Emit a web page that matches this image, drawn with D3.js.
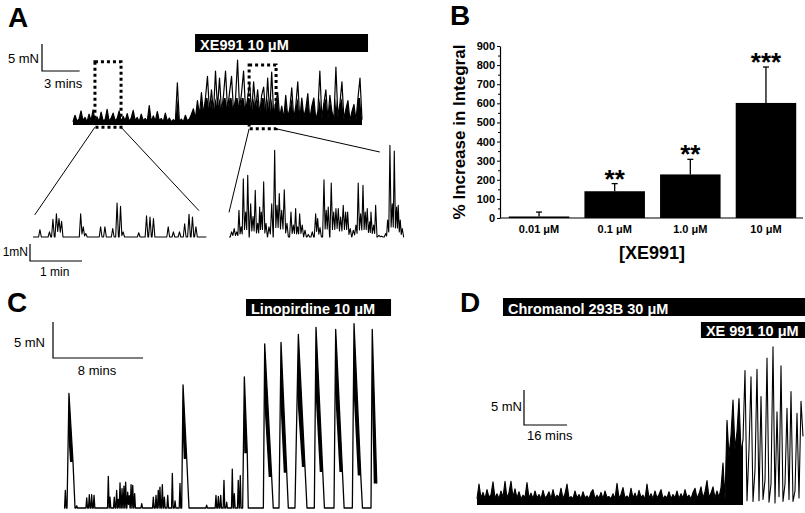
<!DOCTYPE html>
<html>
<head>
<meta charset="utf-8">
<script src="https://cdnjs.cloudflare.com/ajax/libs/d3/7.8.5/d3.min.js"></script>
<style>
  body { margin: 0; background: #fff; }
  svg { display: block; font-family: "Liberation Sans", Arial, sans-serif; }
</style>
</head>
<body>
<svg id="fig" width="805" height="513"></svg>
<script>
// ---------- data ----------
// A: force trace (mN), one sample every aStep min
const aStep = 0.16;
const aTrace = [
  0.6,1.8,0.7,1.1,2.6,0.8,1.4,0.6,2.0,0.8, 2.8,0.7,1.5,0.6,2.4,0.8,1.0,2.9,0.7,1.3,
  2.2,0.8,1.2,2.6,0.6,1.6,0.8,2.1,0.7,1.3, 2.7,0.8,1.4,0.6,2.0,0.8,1.2,0.7,3.6,0.6,
  1.7,0.7,2.5,0.8,1.2,0.6,2.2,0.7,1.3,0.6, 1.0,0.6,7.8,0.7,1.1,0.6,1.8,0.8,1.1,2.0,
  3.0,1.2,4.5,1.8,6.0,2.0,5.0,9.0,2.5,6.5, 2.2,10.0,3.0,8.7,2.5,5.5,10.0,2.8,6.0,9.0,
  2.5,5.0,12.0,3.0,6.0,10.0,2.5,5.0,7.8,2.2, 8.0,3.0,6.5,2.0,5.5,7.0,2.0,8.7,2.0,9.8,
  1.8,4.0,6.0,1.5,3.5,1.2,5.5,1.5,3.0,6.9, 1.2,3.5,8.0,1.0,5.0,1.5,3.0,5.8,1.0,3.5,
  5.0,1.0,2.5,10.0,1.2,4.0,6.5,1.0,5.5,2.5, 1.0,10.7,1.5,4.0,8.0,1.0,3.0,4.5,0.8,2.5,
  3.8,0.8,5.0,8.7,1.0
];
const aDrug = [9.73, 23.52];
const aDrugLabel = "XE991 10 μM";
// expanded segments: [t0, t1, bottom mN, top mN]
const aBoxes = [[1.75, 3.83, -0.4, 11.7], [14.04, 16.19, -0.7, 11.1]];

// A insets: spikes [time s, mN]
const inset1Spikes = [
  [8,0.43],[19,0.3],[23,1.04],[27,1.37],[30,1.08],[33,0.92],[55,1.37],[58,0.6],[61,0.2],
  [78,0.6],[83,0.6],[92,0.5],[97,2.0],[101,1.8],[104,0.3],[122,0.25],[131,1.24],[135,1.18],
  [139,1.08],[156,0.6],[162,0.3],[169,0.3],[175,0.78],[180,1.33],[184,1.18],[188,0.6]
];
const inset2Spikes = [
  [3,0.3],[6,0.5],[9,0.3],[11.5,1.57],[14,0.6],[16.5,3.43],[19.3,1.47],[21.6,3.63],[25,1.96],
  [27.7,1.2],[30.3,2.75],[33.1,0.8],[35.4,1.76],[37.3,1.47],[40,3.24],[42.7,0.8],[46.1,0.6],
  [49.3,1.96],[52.7,5.1],[55.4,1.86],[58,2.55],[60.8,1.57],[63.8,2.78],[66.9,0.8],[71.5,1.47],
  [74.2,0.7],[76.9,1.67],[79.2,0.6],[81.5,1.37],[84.5,0.7],[87.7,0.4],[91.5,0.15],[96.1,0.3],
  [100,1.37],[102.3,1.08],[105,0.55],[109.6,3.37],[112.2,1.57],[114.5,1.76],[118,3.18],
  [120.8,1.47],[123.4,1.67],[126.1,1.67],[128.8,1.18],[131.8,1.86],[134.6,1.47],[136.9,1.47],
  [139.9,0.5],[143.4,0.4],[146.5,0.7],[149.1,3.18],[151.9,1.37],[154.6,3.04],[157.2,1.47],
  [159.5,1.67],[162.3,0.9],[163.8,1.47],[166.9,0.7],[169.2,1.86],[173,0.1],[176.1,0.05],
  [180.7,0.2],[183,1.0],[185.7,5.4],[188.4,1.96],[190.7,5.06],[193.4,1.76],[195.3,1.86],
  [197.6,1.0],[199.9,0.5]
];
const inset1Len = 200, inset2Len = 202;

// B: % increase in integral
const bCats = ["0.01 μM", "0.1 μM", "1.0 μM", "10 μM"];
const bMeans = [8, 140, 228, 602];
const bErrTop = [31, 180, 307, 790];
const bStars = ["", "**", "**", "***"];
const bTicks = [0, 100, 200, 300, 400, 500, 600, 700, 800, 900];
const bMinor = [50, 150, 250, 350, 450, 550, 650, 750, 850];

// C: spikes [min, mN], bursts [start, peak t, peak mN, tail t, tail mN, end]
const cSpikes = [
  [0.12,2.45],[1.13,0.3],[2.02,1.4],[2.25,1.85],[2.46,1.85],[2.67,1.75],[3.94,4.4],[4.09,1.5],
  [4.47,1.5],[4.68,2.45],[4.83,1.2],[4.98,3.5],[5.16,2.7],[5.33,3.05],[5.48,3.6],[5.66,2.2],
  [5.8,1.7],[5.96,3.25],[6.11,3.15],[6.28,2.0],[6.91,0.6],[7.94,1.5],[8.18,1.75],[8.38,2.45],
  [8.53,2.9],[8.74,3.25],[8.92,1.5],[9.22,1.75],[9.63,4.8],[9.87,1.0],[10.31,3.4],[12.68,0.4],
  [13.51,1.75],[13.72,1.6],[13.93,1.75],[14.22,3.85],[14.46,0.8],[14.96,5.4],[15.14,2.0],
  [15.49,3.85],[15.67,4.5]
];
const cBursts = [
  [0.27, 0.44, 15.9, 0.8, 6.4, 0.98],
  [10.46, 10.58, 17.1, 10.91, 6.8, 11.11],
  [15.88, 16.03, 18.2, 16.29, 7.6, 16.38],
  [17.72, 17.84, 22.8, 18.46, 4.3, 18.6],
  [19.11, 19.29, 23.0, 19.8, 4.9, 19.94],
  [20.53, 20.83, 24.1, 21.42, 5.7, 21.6],
  [22.25, 22.4, 25.1, 23.0, 5.0, 23.15],
  [24.0, 24.15, 24.8, 24.75, 5.0, 24.9],
  [25.63, 25.78, 25.6, 26.38, 4.5, 26.53],
  [27.29, 27.4, 24.8, 27.8, 3.4, null]
];
const cLen = 27.8;
const cDrug = [16.18, 29.07];
const cDrugLabel = "Linopirdine 10 μM";

// D: force trace (mN), one sample every dStep min
const dStep = 0.744;
const dTrace = [
  0.9,3.0,1.0,1.8,0.9,2.2,1.1,1.5,3.3,1.0, 1.6,0.9,2.0,1.1,3.4,1.0,1.8,3.4,1.1,2.3,
  1.0,1.9,0.9,1.4,1.1,3.2,1.0,1.7,0.9,2.0, 1.0,1.5,0.9,2.1,1.0,1.3,1.9,0.9,2.2,1.0,
  1.4,1.1,2.4,0.9,1.6,3.0,1.0,1.2,0.9,2.0, 1.0,1.5,0.9,1.9,1.0,1.3,0.9,1.8,2.2,0.9,
  1.4,1.0,1.8,0.9,2.0,1.1,1.2,0.9,1.6,0.9, 3.1,1.0,1.5,2.5,1.0,1.3,0.9,2.4,1.0,1.7,
  0.9,2.1,1.1,1.4,0.9,3.0,1.0,1.6,0.9,2.0, 1.0,1.5,2.2,0.9,1.3,1.0,1.9,0.9,1.5,1.0,
  2.0,0.9,1.6,1.0,2.2,1.1,1.4,0.9,1.8,2.4, 1.0,1.6,2.6,1.0,1.9,3.5,1.1,1.7,2.6,1.0,
  2.0,1.1,2.5,
  6.0,0.8,12.1,7.0,10.0,15.0,8.0,10.5,15.2,7.5, 9.3,19.2,0.6,8.0,18.3,0.5,5.0,19.4,0.6,15.5,
  0.8,3.5,21.0,0.4,3.0,22.6,0.3,13.3,1.2,19.9, 0.5,3.0,13.8,0.8,16.2,0.5,2.0,13.1,1.0,14.8,
  9.8
];
const dSolidUntil = 99.5;   // min: before this the oscillations are unresolved
const dDrugs = [
  { label: "Chromanol 293B 30 μM", t: [9.67, 124], row: 0 },
  { label: "XE 991 10 μM", t: [83.3, 124], row: 1 }
];

// ---------- drawing ----------
const svg = d3.select("#fig");

function tracePoints(spikes, bursts, t0, t1, hw) {
  const ev = spikes.map(s => ({ t: s[0], a: s[1] }))
    .concat(bursts.map(b => ({ t: b[0], burst: b })))
    .sort((p, q) => p.t - q.t);
  const pts = [[t0, 0]];
  ev.forEach((e, i) => {
    if (e.burst) {
      const b = e.burst;
      pts.push([b[0], 0], [b[1], b[2]], [b[3], b[4]]);
      if (b[5] != null) pts.push([b[5], 0]);
      return;
    }
    const prev = ev[i - 1], next = ev[i + 1];
    const near = o => o && !o.burst && Math.abs(o.t - e.t) < 2 * hw;
    if (!near(prev)) pts.push([e.t - hw, 0]);
    pts.push([e.t, e.a]);
    if (near(next)) pts.push([(e.t + next.t) / 2, Math.min(e.a, next.a) * 0.3]);
    else pts.push([e.t + hw, 0]);
  });
  if (pts[pts.length - 1][0] < t1) pts.push([t1, 0]);
  return pts;
}

function drawPath(pts, x, y, w) {
  svg.append("path")
    .datum(pts)
    .attr("fill", "none")
    .attr("stroke", "#000")
    .attr("stroke-width", w)
    .attr("stroke-linejoin", "round")
    .attr("d", d3.line().x(d => x(d[0])).y(d => y(d[1])));
}

// dense recordings: fast oscillations read as solid black up to "cap" mN
function drawDense(pts, fillPts, x, y, w, cap) {
  svg.append("path")
    .datum(fillPts)
    .attr("fill", "#000")
    .attr("d", d3.area().x(d => x(d[0])).y0(y(0)).y1(d => y(Math.min(d[1], cap))));
  drawPath(pts, x, y, w);
}

function scaleBar(x0, y0, dx, dy) {
  svg.append("path")
    .attr("d", `M${x0},${y0 - dy}V${y0}H${x0 + dx}`)
    .attr("fill", "none").attr("stroke", "#000").attr("stroke-width", 1.2);
}

function label(txt, x, y, size, opts = {}) {
  return svg.append("text")
    .attr("x", x).attr("y", y)
    .attr("font-size", size)
    .attr("font-weight", opts.bold ? "bold" : "normal")
    .attr("text-anchor", opts.anchor || "start")
    .attr("fill", opts.fill || "#000")
    .text(txt);
}

function drugBar(x0, x1, top, h, txt) {
  svg.append("rect").attr("x", x0).attr("y", top).attr("width", x1 - x0).attr("height", h).attr("fill", "#000");
  label(txt, x0 + 5, top + h - 2.5, 14.5, { bold: true, fill: "#fff" });
}

// panel letters
label("A", 8, 27, 28, { bold: true });
label("B", 450, 25, 28, { bold: true });
label("C", 7, 312, 28, { bold: true });
label("D", 460, 312, 28, { bold: true });

// ----- A -----
const xA = d3.scaleLinear().domain([0, aStep * (aTrace.length - 1)]).range([73, 362]);
const yA = d3.scaleLinear().domain([0, 5]).range([125, 98]);
const aPts = aTrace.map((v, i) => [i * aStep, v]);
drawDense(aPts, aPts, xA, yA, 1.2, 5);
drugBar(xA(aDrug[0]), xA(aDrug[1]), 34, 18, aDrugLabel);
scaleBar(42, 71, xA(3) - xA(0), yA(0) - yA(5));
label("5 mN", 39, 63, 13, { anchor: "end" });
label("3 mins", 44, 88, 13);

svg.selectAll("rect.box")
  .data(aBoxes)
  .enter().append("rect")
  .attr("class", "box")
  .attr("x", d => xA(d[0]))
  .attr("y", d => yA(d[3]))
  .attr("width", d => xA(d[1]) - xA(d[0]))
  .attr("height", d => yA(d[2]) - yA(d[3]))
  .attr("fill", "none")
  .attr("stroke", "#000")
  .attr("stroke-width", 3)
  .attr("stroke-dasharray", "3,3");

const yI = d3.scaleLinear().domain([0, 1]).range([237, 220]);
const xI1 = d3.scaleLinear().domain([0, inset1Len]).range([33, 33 + inset1Len * 52 / 60]);
const xI2 = d3.scaleLinear().domain([0, inset2Len]).range([229, 229 + inset2Len * 52 / 60]);
drawPath(tracePoints(inset1Spikes, [], 0, inset1Len, 1.6), xI1, yI, 1.1);
drawPath(tracePoints(inset2Spikes, [], 0, inset2Len, 1.6), xI2, yI, 1.1);

// lines from dotted boxes to the expanded insets: [box, side, inset, t s, mN]
const aLinks = [[0, 0, xI1, 2, 1.3], [0, 1, xI1, 191.5, 1.55], [1, 0, xI2, 0, 1.45], [1, 1, xI2, 174, 5.0]];
svg.selectAll("line.link")
  .data(aLinks)
  .enter().append("line")
  .attr("x1", d => xA(aBoxes[d[0]][d[1]]))
  .attr("y1", d => yA(aBoxes[d[0]][2]))
  .attr("x2", d => d[2](d[3]))
  .attr("y2", d => yI(d[4]))
  .attr("stroke", "#000")
  .attr("stroke-width", 1);

scaleBar(30, 261, xI1(60) - xI1(0), yI(0) - yI(1));
label("1mN", 28, 256, 12, { anchor: "end" });
label("1 min", 40, 276, 12);

// ----- B -----
const yB = d3.scaleLinear().domain([0, 900]).range([218, 46]);
const xB = d3.scaleBand().domain(bCats).range([505, 800]).paddingInner(0.2).paddingOuter(0.05);

const yAxis = svg.append("g")
  .attr("transform", "translate(500,0)")
  .call(d3.axisLeft(yB).tickValues(bTicks).tickSize(3).tickSizeOuter(0).tickPadding(2));
yAxis.selectAll("text").attr("font-size", 11).attr("font-weight", "bold").attr("font-family", "Liberation Sans, Arial, sans-serif");
yAxis.select(".domain").attr("stroke-width", 1.2);
const yMinor = svg.append("g")
  .attr("transform", "translate(500,0)")
  .call(d3.axisLeft(yB).tickValues(bMinor).tickSize(2).tickFormat(""));
yMinor.select(".domain").remove();

const xAxis = svg.append("g")
  .attr("transform", `translate(0,${yB(0)})`)
  .call(d3.axisBottom(xB).tickSize(0).tickPadding(7));
xAxis.select(".domain").remove();
xAxis.selectAll("text").attr("font-size", 11).attr("font-weight", "bold").attr("font-family", "Liberation Sans, Arial, sans-serif");
svg.append("line")
  .attr("x1", 500).attr("x2", 803)
  .attr("y1", yB(0)).attr("y2", yB(0))
  .attr("stroke", "#000").attr("stroke-width", 1.2);

const bData = bCats.map((c, i) => ({ c, m: bMeans[i], e: bErrTop[i], s: bStars[i] }));
svg.selectAll("rect.bar")
  .data(bData)
  .enter().append("rect")
  .attr("class", "bar")
  .attr("x", d => xB(d.c))
  .attr("y", d => yB(d.m))
  .attr("width", xB.bandwidth())
  .attr("height", d => yB(0) - yB(d.m))
  .attr("fill", "#000");

const cx = d => xB(d.c) + xB.bandwidth() / 2;
svg.selectAll("line.err")
  .data(bData)
  .enter().append("line")
  .attr("x1", cx).attr("x2", cx)
  .attr("y1", d => yB(d.m)).attr("y2", d => yB(d.e))
  .attr("stroke", "#000").attr("stroke-width", 1.3);
svg.selectAll("line.cap")
  .data(bData)
  .enter().append("line")
  .attr("x1", d => cx(d) - 3).attr("x2", d => cx(d) + 3)
  .attr("y1", d => yB(d.e)).attr("y2", d => yB(d.e))
  .attr("stroke", "#000").attr("stroke-width", 1.3);
svg.selectAll("text.star")
  .data(bData)
  .enter().append("text")
  .attr("x", cx)
  .attr("y", d => yB(d.e) + 4)
  .attr("text-anchor", "middle")
  .attr("font-size", 26)
  .attr("font-weight", "bold")
  .text(d => d.s);

svg.append("text")
  .attr("transform", "translate(465,132) rotate(-90)")
  .attr("text-anchor", "middle")
  .attr("font-size", 17)
  .attr("font-weight", "bold")
  .text("% Increase in Integral");
label("[XE991]", 652, 259, 18, { bold: true, anchor: "middle" });

// ----- C -----
const xC = d3.scaleLinear().domain([0, cLen]).range([64, 64 + cLen * 90 / 8]);
const yC = d3.scaleLinear().domain([0, 5]).range([508, 472]);
// dense oscillations in the upper part of each burst
svg.selectAll("path.burst")
  .data(cBursts)
  .enter().append("path")
  .attr("class", "burst")
  .attr("fill", "#000")
  .attr("d", b => d3.line()([
    [xC(b[1]), yC(b[2])],
    [xC(b[3]), yC(b[4])],
    [xC(b[3]) - 3, yC(b[4])],
    [xC(b[0] + (b[1] - b[0]) * 0.65), yC(b[2] * 0.65)]
  ]) + "Z");
drawPath(tracePoints(cSpikes, cBursts, 0, cLen, 0.07), xC, yC, 1.3);
drugBar(xC(cDrug[0]), xC(cDrug[1]), 299, 17, cDrugLabel);
scaleBar(53, 358, xC(8) - xC(0), yC(0) - yC(5));
label("5 mN", 45, 347, 13, { anchor: "end" });
label("8 mins", 97, 375, 13, { anchor: "middle" });

// ----- D -----
const xD = d3.scaleLinear().domain([0, dStep * (dTrace.length - 1)]).range([477, 803]);
const yD = d3.scaleLinear().domain([0, 5]).range([505, 470]);
const dPts = dTrace.map((v, i) => [i * dStep, v]);
drawDense(dPts, dPts.filter(d => d[0] <= dSolidUntil), xD, yD, 1.1, 20);
dDrugs.forEach(d => {
  const top = d.row === 0 ? 298 : 322;
  const h = d.row === 0 ? 18 : 16;
  drugBar(xD(d.t[0]), Math.min(805, xD(d.t[1])), top, h, d.label);
});
scaleBar(524, 425, xD(16) - xD(0), yD(0) - yD(5));
label("5 mN", 522, 411, 13, { anchor: "end" });
label("16 mins", 527, 440, 13);
</script>
</body>
</html>
